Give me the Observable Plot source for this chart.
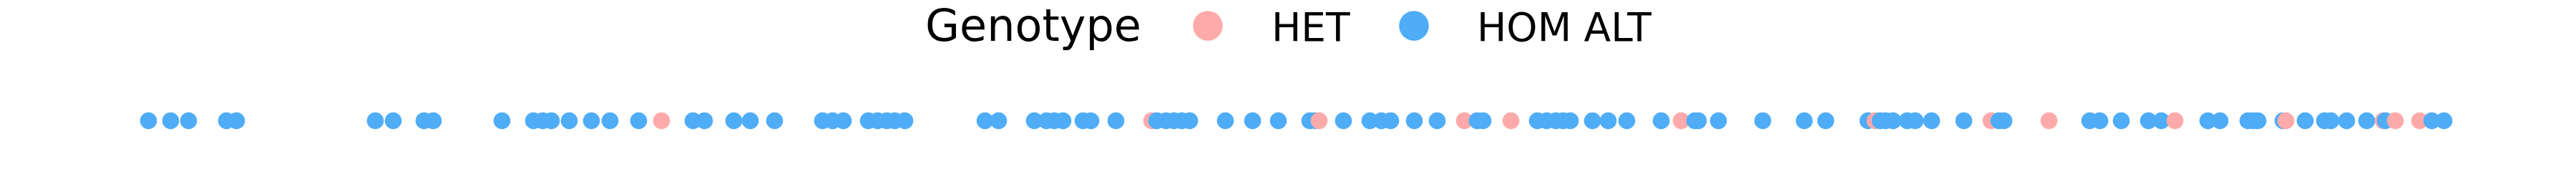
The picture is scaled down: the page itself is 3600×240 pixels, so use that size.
<!DOCTYPE html>
<html>
<head>
<meta charset="utf-8">
<script src="https://cdn.jsdelivr.net/npm/d3@7"></script>
<script src="https://cdn.jsdelivr.net/npm/@observablehq/plot@0.6"></script>
<style>
  html, body { margin: 0; padding: 0; background: #fff; }
  #legend, #chart { display: block; }
  svg { display: block; }
</style>
</head>
<body>
<div id="legend"></div>
<div id="chart"></div>
<script>
// Variant positions (arbitrary genomic units along the track)
const positions = [
  207, 238, 263, 316, 330, 524, 549, 592, 605, 701,
  745, 758, 770, 795, 826, 852, 892, 924, 968, 984,
  1025, 1048, 1082, 1149, 1163, 1178, 1213, 1226, 1239, 1250,
  1264, 1376, 1395, 1445, 1462, 1473, 1485, 1513, 1524, 1559,
  1609, 1616, 1629, 1640, 1651, 1662, 1712, 1750, 1786, 1830,
  1838, 1843, 1877, 1914, 1930, 1943, 1976, 2008, 2046, 2064,
  2072, 2111, 2148, 2161, 2174, 2184, 2194, 2225, 2247, 2273,
  2321, 2349, 2368, 2373, 2401, 2463, 2521, 2551, 2610, 2620,
  2627, 2635, 2645, 2665, 2676, 2699, 2744, 2782, 2793, 2800,
  2863, 2920, 2934, 2964, 3002, 3020, 3039, 3085, 3102, 3141,
  3148, 3155, 3190, 3194, 3221, 3248, 3257, 3279, 3307, 3330,
  3333, 3347, 3381, 3398, 3415
];
// Genotype per variant: H = HET, A = HOM ALT
const genotypeCodes = [
  "A","A","A","A","A","A","A","A","A","A",
  "A","A","A","A","A","A","A","H","A","A",
  "A","A","A","A","A","A","A","A","A","A",
  "A","A","A","A","A","A","A","A","A","A",
  "H","A","A","A","A","A","A","A","A","A",
  "A","H","A","A","A","A","A","A","H","A",
  "A","H","A","A","A","A","A","A","A","A",
  "A","H","A","A","A","A","A","A","A","H",
  "A","A","A","A","A","A","A","H","A","A",
  "H","A","A","A","A","A","H","A","A","A",
  "A","A","A","H","A","A","A","A","A","H",
  "A","H","H","A","A"
];
const genotypeNames = { H: "HET", A: "HOM ALT" };
const genotypeOrder = ["HET", "HOM ALT"];
const genotypeColors = ["#ffaaaa", "#4facf7"];
const legendTitle = "Genotype";

const data = positions.map((p, i) => ({ pos: p, genotype: genotypeNames[genotypeCodes[i]] }));

// ---- Legend (above the plot) ----
const W = 3600;
const leg = d3.select("#legend").append("svg")
  .attr("width", W).attr("height", 90)
  .style("font-family", "'DejaVu Sans', sans-serif");
leg.append("text")
  .attr("x", 1293).attr("y", 57)
  .attr("font-size", 62)
  .attr("fill", "#000")
  .text(legendTitle);
const itemX = [1688, 1976];
const labelX = [1777, 2064];
genotypeOrder.forEach((g, i) => {
  leg.append("circle")
    .attr("cx", itemX[i]).attr("cy", 36).attr("r", 20.8)
    .attr("fill", genotypeColors[i]);
  leg.append("text")
    .attr("x", labelX[i]).attr("y", 57)
    .attr("font-size", 55)
    .attr("fill", "#000")
    .text(g);
});

// ---- Plot ----
const chart = Plot.plot({
  width: W,
  height: 150,
  marginTop: 6,
  marginBottom: 0,
  marginLeft: 0,
  marginRight: 0,
  x: { domain: [0, W], axis: null },
  color: { domain: genotypeOrder, range: genotypeColors },
  style: { background: "#fff" },
  marks: [
    Plot.dot(data, { x: "pos", fill: "genotype", r: 11.8, stroke: "none", frameAnchor: "middle" })
  ]
});
document.getElementById("chart").appendChild(chart);
</script>
</body>
</html>
